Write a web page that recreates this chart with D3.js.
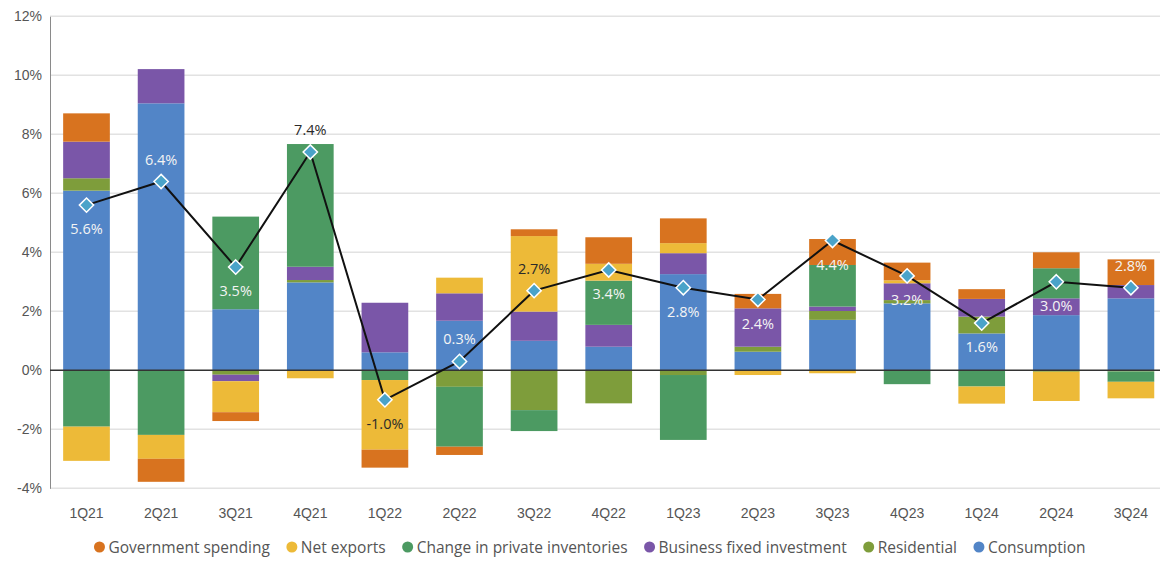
<!DOCTYPE html>
<html>
<head>
<meta charset="utf-8">
<script src="https://cdn.jsdelivr.net/npm/d3@7"></script>
<style>
  html, body { margin: 0; padding: 0; background: #fff; }
  svg { display: block; font-family: "Open Sans", "Liberation Sans", sans-serif; }
</style>
</head>
<body>
<svg id="chart" width="1160" height="563"></svg>
<script>
const quarters = ["1Q21","2Q21","3Q21","4Q21","1Q22","2Q22","3Q22","4Q22","1Q23","2Q23","3Q23","4Q23","1Q24","2Q24","3Q24"];
const consumption = [6.09, 9.05, 2.07, 2.98, 0.61, 1.68, 1.00, 0.80, 3.26, 0.63, 1.71, 2.27, 1.25, 1.87, 2.44];
const residential = [0.42, 0.00, -0.15, 0.08, 0.00, -0.56, -1.35, -1.12, -0.16, 0.17, 0.30, 0.11, 0.57, -0.05, -0.04];
const business = [1.24, 1.16, -0.22, 0.45, 1.68, 0.93, 0.99, 0.74, 0.71, 1.30, 0.15, 0.57, 0.60, 0.57, 0.45];
const inventories = [-1.91, -2.19, 3.14, 4.16, -0.33, -2.03, -0.71, 1.50, -2.20, 0.00, 1.41, -0.47, -0.55, 1.02, -0.35];
const netExports = [-1.16, -0.81, -1.05, -0.27, -2.36, 0.53, 2.56, 0.57, 0.34, -0.16, -0.10, 0.10, -0.58, -0.99, -0.56];
const government = [0.96, -0.78, -0.30, 0.00, -0.61, -0.28, 0.23, 0.90, 0.84, 0.49, 0.88, 0.60, 0.33, 0.54, 0.87];
const gdp = [5.6, 6.4, 3.5, 7.4, -1.0, 0.3, 2.7, 3.4, 2.8, 2.4, 4.4, 3.2, 1.6, 3.0, 2.8];
const yTicks = [-4, -2, 0, 2, 4, 6, 8, 10, 12];

// stacking order from zero outward
const seriesKeys = ["consumption","residential","business","inventories","netExports","government"];
const seriesValues = { consumption, residential, business, inventories, netExports, government };
const seriesNames = {
  government: "Government spending",
  netExports: "Net exports",
  inventories: "Change in private inventories",
  business: "Business fixed investment",
  residential: "Residential",
  consumption: "Consumption"
};
const legendOrder = ["government","netExports","inventories","business","residential","consumption"];
const colors = {
  government: "#D8731F",
  netExports: "#EDBA38",
  inventories: "#4C9A62",
  business: "#7A56A8",
  residential: "#7E9D3B",
  consumption: "#5285C7"
};
// label placement annotations
const labelsAbove = new Set(["2Q21","4Q21","2Q22","3Q22","3Q24"]);
const labelsDark = new Set(["4Q21","1Q22","3Q22"]);

const svg = d3.select("#chart");

const rows = quarters.map((q, i) => {
  const r = { q };
  seriesKeys.forEach(k => r[k] = seriesValues[k][i]);
  return r;
});

const x = d3.scaleBand()
  .domain(quarters)
  .range([49.2, 1168.2])
  .paddingInner(0.374)
  .paddingOuter(0.187);

const y = d3.scaleLinear().domain([-4, 12]).range([488.3, 16.3]);

const xLeft = 50, xRight = 1160;

// gridlines
svg.append("g").selectAll("line")
  .data(yTicks.filter(t => t !== 0))
  .join("line")
  .attr("x1", xLeft).attr("x2", xRight)
  .attr("y1", d => y(d)).attr("y2", d => y(d))
  .attr("stroke", "#e2e2e2").attr("stroke-width", 1.5);

// y axis
const yAxis = svg.append("g")
  .attr("transform", `translate(${xLeft},0)`)
  .call(d3.axisLeft(y).tickValues(yTicks).tickFormat(d => d + "%").tickSize(0).tickPadding(8));
yAxis.select(".domain").attr("stroke", "#8a8a8a").attr("stroke-width", 1);
yAxis.selectAll("text").attr("font-size", 14).attr("fill", "#555")
  .attr("font-family", "'Liberation Sans', sans-serif");

// stacks
const stack = d3.stack().keys(seriesKeys).order(d3.stackOrderNone).offset(d3.stackOffsetDiverging);
const stacked = stack(rows);

svg.append("g").selectAll("g")
  .data(stacked)
  .join("g")
  .attr("fill", d => colors[d.key])
  .selectAll("rect")
  .data(d => d)
  .join("rect")
  .attr("x", d => x(d.data.q))
  .attr("width", x.bandwidth())
  .attr("y", d => y(Math.max(d[0], d[1])))
  .attr("height", d => Math.abs(y(d[0]) - y(d[1])));

// zero line
svg.append("line")
  .attr("x1", xLeft).attr("x2", xRight)
  .attr("y1", y(0)).attr("y2", y(0))
  .attr("stroke", "#333").attr("stroke-width", 1.5);

// x axis labels
const xAxis = svg.append("g")
  .attr("transform", `translate(0,${y(-4)})`)
  .call(d3.axisBottom(x).tickSize(0).tickPadding(20));
xAxis.select(".domain").remove();
xAxis.selectAll("text").attr("font-size", 14).attr("fill", "#555")
  .attr("font-family", "'Liberation Sans', sans-serif");

// GDP line
const cx = q => x(q) + x.bandwidth() / 2;
const line = d3.line().x((d, i) => cx(quarters[i])).y(d => y(d));
svg.append("path")
  .datum(gdp)
  .attr("d", line)
  .attr("fill", "none")
  .attr("stroke", "#111")
  .attr("stroke-width", 2);

svg.append("g").selectAll("path")
  .data(gdp)
  .join("path")
  .attr("d", d3.symbol().type(d3.symbolDiamond2).size(130))
  .attr("transform", (d, i) => `translate(${cx(quarters[i])},${y(d)})`)
  .attr("fill", "#4AA3C9")
  .attr("stroke", "#fff")
  .attr("stroke-width", 1.5);

// GDP labels
svg.append("g").selectAll("text")
  .data(gdp)
  .join("text")
  .attr("x", (d, i) => cx(quarters[i]))
  .attr("y", (d, i) => y(d) + (labelsAbove.has(quarters[i]) ? -17 : 29))
  .attr("text-anchor", "middle")
  .attr("font-size", 14.5)
  .attr("font-weight", 500)
  .attr("fill", (d, i) => labelsDark.has(quarters[i]) ? "#2a2a2a" : "#f4f4f4")
  .text(d => d.toFixed(1) + "%");

// legend
const legend = svg.append("g").attr("class", "legend");
const gap = 22;
let lx = 0;
legendOrder.forEach(k => {
  const g = legend.append("g").attr("transform", `translate(${lx},0)`);
  g.append("circle").attr("cx", 0).attr("cy", 0).attr("r", 5.5).attr("fill", colors[k]);
  const t = g.append("text").attr("x", 9).attr("y", 5.5)
    .attr("font-size", 15.5).attr("fill", "#555")
    .text(seriesNames[k]);
  lx += 9 + t.node().getComputedTextLength() + gap;
});
const legendW = lx - gap;
legend.attr("transform", `translate(${95 + (995 - legendW) / 2},547)`);
</script>
</body>
</html>
